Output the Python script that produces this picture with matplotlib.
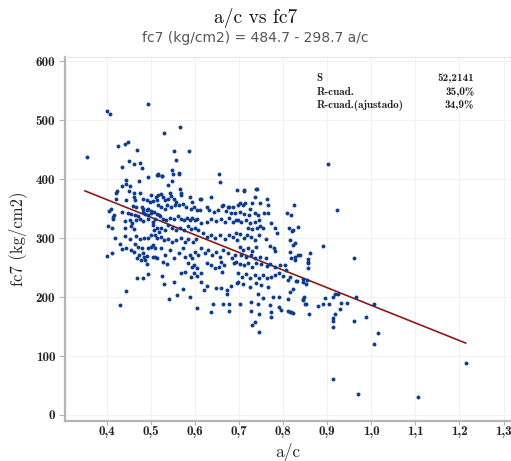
import matplotlib
matplotlib.use("Agg")
import matplotlib.pyplot as plt
from matplotlib.ticker import FuncFormatter

# regression shown in the subtitle
intercepto = 484.7
pendiente = -298.7
ac_linea = [0.35, 1.214]

# a/c vs fc7 (kg/cm2), grouped by zone
ac_izq = [0.354, 0.401, 0.407, 0.494, 0.426, 0.442, 0.447, 0.469, 0.435, 0.451, 0.461, 0.475, 0.480,
          0.494, 0.514, 0.515, 0.444, 0.472, 0.435, 0.443, 0.453, 0.422, 0.420, 0.451, 0.462, 0.476,
          0.420, 0.444, 0.462, 0.464, 0.482, 0.499, 0.511, 0.490, 0.498, 0.505, 0.514, 0.458, 0.467,
          0.479, 0.482, 0.490, 0.494, 0.501, 0.409, 0.405, 0.435, 0.447, 0.454, 0.464, 0.471, 0.481,
          0.486, 0.494, 0.501, 0.507, 0.514, 0.519, 0.414, 0.413, 0.441, 0.452, 0.456, 0.467, 0.475,
          0.482, 0.494, 0.504, 0.509, 0.403, 0.411, 0.442, 0.454, 0.461, 0.504, 0.514, 0.507, 0.518,
          0.418, 0.441, 0.452, 0.466, 0.476, 0.484, 0.494, 0.499, 0.510, 0.514, 0.429, 0.435, 0.443,
          0.454, 0.462, 0.464, 0.471, 0.479, 0.473, 0.481, 0.484, 0.490, 0.494, 0.501, 0.505, 0.509,
          0.399, 0.412, 0.469, 0.477, 0.504, 0.509, 0.514, 0.487, 0.490, 0.492, 0.469, 0.481, 0.444,
          0.429, 0.416]
fc7_izq = [437, 515, 511, 527, 456, 460, 463, 450, 421, 431, 425, 428, 419,
           403, 407, 407, 399, 397, 388, 391, 389, 380, 376, 380, 377, 377,
           367, 364, 369, 364, 367, 373, 370, 364, 361, 363, 364, 354, 353,
           353, 350, 347, 350, 346, 350, 346, 345, 342, 341, 339, 337, 344,
           341, 339, 342, 345, 341, 339, 336, 333, 329, 331, 325, 331, 332,
           329, 333, 328, 332, 320, 318, 318, 320, 316, 322, 318, 314, 311,
           301, 303, 299, 303, 299, 301, 301, 305, 305, 301, 290, 281, 283,
           280, 277, 290, 285, 284, 271, 274, 268, 270, 283, 285, 288, 284,
           270, 274, 267, 263, 268, 268, 267, 263, 256, 240, 233, 233, 211,
           187, 340]

ac_centro = [0.530, 0.566, 0.552, 0.586, 0.556, 0.548, 0.550, 0.563, 0.564, 0.654, 0.657, 0.525, 0.516,
             0.526, 0.539, 0.548, 0.565, 0.567, 0.567, 0.516, 0.522, 0.527, 0.531, 0.538, 0.542, 0.546,
             0.552, 0.557, 0.588, 0.592, 0.611, 0.614, 0.636, 0.695,
             0.516, 0.523, 0.532, 0.537, 0.546, 0.554, 0.563, 0.573, 0.580, 0.590, 0.598, 0.605, 0.611,
             0.626, 0.632, 0.643, 0.652, 0.662, 0.671, 0.677, 0.681, 0.690,
             0.520, 0.527, 0.535, 0.544, 0.552, 0.561, 0.567, 0.575, 0.582, 0.588, 0.593, 0.599, 0.605,
             0.614, 0.626, 0.637, 0.648, 0.659, 0.667, 0.678, 0.686, 0.693,
             0.523, 0.531, 0.538, 0.547, 0.557, 0.565, 0.575, 0.584, 0.591, 0.599, 0.606,
             0.618, 0.628, 0.637, 0.646, 0.656, 0.667, 0.676, 0.686, 0.695,
             0.522, 0.530, 0.538, 0.547, 0.557, 0.567, 0.576, 0.585, 0.595, 0.602,
             0.523, 0.532, 0.542, 0.552, 0.563, 0.573, 0.578, 0.588, 0.592, 0.599, 0.606, 0.614, 0.622,
             0.630, 0.639, 0.648, 0.656, 0.663, 0.675, 0.684, 0.691,
             0.527, 0.537, 0.585, 0.592, 0.598, 0.605, 0.626, 0.636, 0.646, 0.658, 0.665, 0.688,
             0.567, 0.576, 0.590, 0.598, 0.605, 0.613, 0.654, 0.661,
             0.525, 0.529, 0.553, 0.614, 0.628, 0.648, 0.659, 0.673, 0.673, 0.682, 0.694,
             0.540, 0.560, 0.573, 0.589, 0.620, 0.605, 0.641, 0.663, 0.676, 0.676, 0.637,
             0.711, 0.739, 0.736, 0.663, 0.674, 0.685, 0.698, 0.708]
fc7_centro = [478, 489, 447, 448, 432, 416, 408, 408, 410, 408, 395, 405, 408,
              405, 390, 397, 383, 377, 373, 373, 375, 370, 364, 367, 376, 371,
              367, 362, 369, 362, 366, 366, 369, 381,
              356, 353, 350, 356, 353, 356, 356, 358, 353, 350, 353, 347, 347,
              353, 347, 345, 347, 354, 346, 353, 342, 342,
              337, 333, 331, 335, 332, 337, 333, 331, 335, 331, 335, 331, 333,
              325, 328, 332, 329, 333, 328, 335, 328, 331,
              318, 314, 322, 318, 314, 318, 314, 320, 315, 318, 314,
              308, 302, 305, 301, 305, 298, 305, 302, 297,
              302, 297, 299, 294, 297, 301, 294, 298, 294, 299,
              284, 271, 280, 267, 274, 283, 268, 271, 266, 277, 271, 283, 274,
              280, 271, 277, 268, 280, 274, 267, 271,
              260, 256, 258, 251, 254, 249, 258, 254, 249, 260, 254, 258,
              241, 243, 234, 241, 236, 241, 251, 243,
              236, 222, 226, 226, 219, 215, 215, 212, 205, 219, 224,
              196, 203, 213, 201, 212, 181, 189, 188, 189, 176, 174,
              381, 383, 369, 356, 353, 352, 356, 357]

ac_der = [0.740, 0.712, 0.702, 0.714, 0.729, 0.747, 0.763, 0.765, 0.824, 0.725,
          0.701, 0.712, 0.723, 0.735, 0.742, 0.757, 0.765, 0.772, 0.809, 0.818, 0.833,
          0.697, 0.704, 0.716, 0.725, 0.735, 0.745, 0.748, 0.720, 0.729, 0.740, 0.755, 0.782, 0.785,
          0.814, 0.820, 0.822,
          0.693, 0.702, 0.710, 0.717, 0.727, 0.737, 0.745, 0.760, 0.770, 0.778, 0.782, 0.816, 0.826,
          0.834, 0.860, 0.856,
          0.701, 0.708, 0.720, 0.729, 0.738, 0.705, 0.716, 0.727, 0.737, 0.748, 0.760,
          0.693, 0.701, 0.710, 0.720, 0.729, 0.738, 0.750, 0.763, 0.769, 0.782, 0.793, 0.803, 0.806,
          0.818, 0.827, 0.837, 0.856,
          0.697, 0.707, 0.716, 0.725, 0.735, 0.745, 0.754, 0.763, 0.772, 0.782, 0.791, 0.800, 0.810,
          0.831, 0.845, 0.854, 0.697, 0.709, 0.724, 0.738, 0.750, 0.765,
          0.742, 0.754, 0.777, 0.790, 0.810, 0.845, 0.852, 0.727, 0.742, 0.769, 0.790, 0.701, 0.727,
          0.745, 0.772, 0.795, 0.810, 0.818, 0.822, 0.858, 0.772, 0.729, 0.735, 0.746]
fc7_der = [384, 380, 360, 360, 359, 360, 367, 356, 356, 350,
           345, 341, 339, 343, 339, 343, 342, 326, 343, 339, 319,
           331, 328, 331, 326, 328, 331, 320, 318, 316, 318, 318, 318, 308,
           318, 312, 314,
           308, 307, 301, 305, 302, 297, 305, 298, 286, 283, 278, 297, 291,
           271, 274, 265,
           285, 280, 284, 278, 285, 271, 268, 271, 266, 268, 267,
           260, 256, 254, 257, 251, 258, 256, 253, 256, 251, 254, 254, 246,
           267, 268, 272, 260,
           241, 234, 239, 232, 237, 233, 237, 232, 234, 237, 241, 236, 229,
           228, 226, 229, 226, 222, 217, 224, 220, 217,
           206, 198, 201, 201, 196, 196, 189, 192, 189, 186, 184, 188, 177,
           172, 175, 178, 177, 175, 173, 171, 167, 153, 158, 141]

ac_cola = [0.901, 0.922, 0.823, 0.816, 0.857, 0.890, 0.856, 0.827, 0.960,
           0.816, 0.829, 0.846, 0.852, 0.816, 0.822, 0.848, 0.844, 0.895, 0.913, 0.918, 0.925, 0.966,
           0.850, 0.816, 0.880, 0.891, 0.904, 0.932, 0.945, 0.928, 0.918, 0.912, 0.913, 0.914, 0.912,
           1.007, 0.988, 0.960, 1.015, 1.005, 0.970, 1.106, 1.214]
fc7_cola = [425, 348, 288, 277, 258, 286, 249, 263, 266,
            234, 228, 230, 222, 209, 213, 201, 195, 198, 201, 205, 206, 201,
            189, 175, 185, 188, 189, 190, 190, 179, 172, 164, 160, 150, 61,
            189, 167, 160, 139, 121, 35, 30, 89]

ac = ac_izq + ac_centro + ac_der + ac_cola
fc7 = fc7_izq + fc7_centro + fc7_der + fc7_cola

x_ticks = [0.4, 0.5, 0.6, 0.7, 0.8, 0.9, 1.0, 1.1, 1.2, 1.3]
y_ticks = [0, 100, 200, 300, 400, 500, 600]

etiquetas = ["S", "R-cuad.", "R-cuad.(ajustado)"]
valores = ["52,2141", "35,0%", "34,9%"]

plt.rcParams["axes.unicode_minus"] = False

fig = plt.figure(figsize=(5.11, 4.61), dpi=100)
ax = fig.add_axes([0.127, 0.087, 0.873, 0.789])

ax.scatter(ac, fc7, s=8, color="#0e3d8e", linewidths=0, zorder=3)
fc7_linea = [intercepto + pendiente * v for v in ac_linea]
ax.plot(ac_linea, fc7_linea, color="#8b1a1a", lw=1.2, zorder=2)

ax.set_xlim(0.3045, 1.317)
ax.set_ylim(-10, 607)
ax.set_xticks(x_ticks)
ax.set_yticks(y_ticks)
ax.xaxis.set_major_formatter(FuncFormatter(lambda v, p: f"{v:.1f}".replace(".", ",")))
ax.grid(True, color="#f2f2f2", lw=0.8, zorder=0)
ax.set_axisbelow(True)

for s in ["left", "bottom"]:
    ax.spines[s].set_color("#b4b4b4")
    ax.spines[s].set_linewidth(1.6)
ax.spines["top"].set_color("#e4e4e4")
ax.spines["top"].set_linewidth(0.8)
ax.spines["right"].set_visible(False)

ax.tick_params(axis="both", width=0.8, color="#b4b4b4", labelsize=9.5, labelcolor="#222222")
ax.tick_params(axis="x", length=3, pad=1)
ax.tick_params(axis="y", length=4, pad=3)
for lab in ax.get_xticklabels() + ax.get_yticklabels():
    lab.set_fontfamily("cmb10")

ax.set_xlabel("a/c", fontfamily="cmr10", fontsize=12.5, color="#222222")
ax.xaxis.set_label_coords(0.5, -0.06)
ax.set_ylabel("fc7 (kg/cm2)", fontfamily="cmr10", fontsize=12, color="#222222", labelpad=6)

fig.text(0.5, 0.962, "a/c vs fc7", ha="center", va="center", fontfamily="cmr10", fontsize=14, color="#111111")
fig.text(0.5, 0.917, "fc7 (kg/cm2) = 484.7 - 298.7 a/c", ha="center", va="center",
         fontfamily="DejaVu Sans", fontsize=10, color="#555555")

for i, (e, v) in enumerate(zip(etiquetas, valores)):
    y = 0.83 - i * 0.029
    fig.text(0.62, y, e, ha="left", va="center", fontfamily="cmb10", fontsize=8, color="#222222")
    fig.text(0.928, y, v, ha="right", va="center", fontfamily="cmb10", fontsize=8, color="#222222")

fig.savefig("out.png", dpi=100)
